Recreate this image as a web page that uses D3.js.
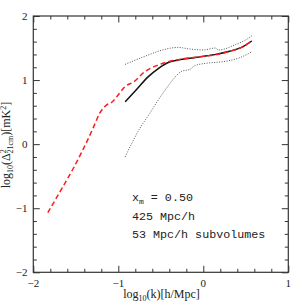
<!DOCTYPE html>
<html><head><meta charset="utf-8">
<script src="https://cdn.jsdelivr.net/npm/d3@7/dist/d3.min.js"></script>
<style>body{margin:0;background:#fff}svg{display:block}</style>
</head><body>
<svg id="c" width="305" height="305"></svg>
<script>
const xTicks = [-2, -1, 0, 1];
const yTicks = [-2, -1, 0, 1, 2];
const redDashed = [[-1.83,-1.07],[-1.65,-0.66],[-1.53,-0.38],[-1.41,-0.07],[-1.29,0.27],[-1.22,0.48],[-1.14,0.61],[-1.08,0.65],[-1.0,0.77],[-0.92,0.90],[-0.82,0.97],[-0.69,1.13],[-0.53,1.235],[-0.37,1.30],[-0.22,1.335],[0.0,1.37],[0.16,1.40],[0.31,1.45],[0.45,1.51],[0.57,1.61]];
const blackSolid = [[-0.92,0.66],[-0.78,0.86],[-0.65,1.05],[-0.53,1.18],[-0.39,1.285],[-0.31,1.31],[-0.16,1.34],[0.0,1.37],[0.16,1.405],[0.31,1.45],[0.45,1.51],[0.57,1.61]];
const upperDotted = [[-0.92,1.245],[-0.65,1.39],[-0.45,1.48],[-0.30,1.51],[-0.16,1.485],[0.0,1.47],[0.14,1.50],[0.18,1.47],[0.25,1.485],[0.37,1.55],[0.49,1.62],[0.57,1.69]];
const lowerDotted = [[-0.92,-0.20],[-0.745,0.25],[-0.63,0.48],[-0.53,0.69],[-0.39,0.95],[-0.33,1.05],[-0.25,1.14],[-0.16,1.165],[-0.10,1.225],[0.02,1.26],[0.18,1.28],[0.29,1.30],[0.43,1.35],[0.57,1.44]];

const L=33.3, R=288.3, T=16, B=272.3;
const x = d3.scaleLinear().domain([-2,1]).range([L,R]);
const y = d3.scaleLinear().domain([-2,2]).range([B,T]);
const svg = d3.select('#c');
const g = svg.append('g');
const axc = '#333';
const minorX = d3.range(-2,1.0001,0.2).map(v=>+v.toFixed(2));
const minorY = d3.range(-2,2.0001,0.2).map(v=>+v.toFixed(2));
const isMaj = v => Math.abs(v-Math.round(v))<1e-6;

function ax(axisGen, tr, vals){
  const a = g.append('g').attr('transform',tr).call(axisGen.tickValues(vals).tickFormat('').tickSizeOuter(0));
  a.select('.domain').remove();
  a.selectAll('.tick line').attr('stroke',axc).attr('stroke-width',1)
   .each(function(d){ const s=isMaj(d)?6.5:3.5; const el=d3.select(this); if(el.attr('x2')!==null && +el.attr('x2')!==0) el.attr('x2', Math.sign(+el.attr('x2'))*s); else el.attr('y2', Math.sign(+el.attr('y2'))*s);});
}
ax(d3.axisBottom(x).tickSizeInner(-1), `translate(0,${B})`, minorX);
ax(d3.axisTop(x).tickSizeInner(-1), `translate(0,${T})`, minorX);
ax(d3.axisLeft(y).tickSizeInner(-1), `translate(${L},0)`, minorY);
ax(d3.axisRight(y).tickSizeInner(-1), `translate(${R},0)`, minorY);
g.append('rect').attr('x',L).attr('y',T).attr('width',R-L).attr('height',B-T).attr('fill','none').attr('stroke',axc).attr('stroke-width',1.2);

const fmt = v => (v<0?'\u2212':'')+Math.abs(v);
g.selectAll('.xl').data(xTicks).enter().append('text').attr('x',d=>x(d)).attr('y',287)
 .attr('text-anchor','middle').attr('font-family','Liberation Serif').attr('font-size',11).attr('fill','#222').text(fmt);
g.selectAll('.yl').data(yTicks).enter().append('text').attr('x',27.5).attr('y',d=>y(d)+3.8)
 .attr('text-anchor','end').attr('font-family','Liberation Serif').attr('font-size',11).attr('fill','#222').text(fmt);

const line = d3.line().x(d=>x(d[0])).y(d=>y(d[1])).curve(d3.curveMonotoneX);
g.append('path').datum(upperDotted).attr('d',line).attr('fill','none').attr('stroke','#555').attr('stroke-width',1).attr('stroke-dasharray','1,1.5');
g.append('path').datum(lowerDotted).attr('d',line).attr('fill','none').attr('stroke','#555').attr('stroke-width',1).attr('stroke-dasharray','1,1.5');
g.append('path').datum(blackSolid).attr('d',line).attr('fill','none').attr('stroke','#111').attr('stroke-width',1.5);
g.append('path').datum(redDashed).attr('d',line).attr('fill','none').attr('stroke','#ff1a1a').attr('stroke-width',1.5).attr('stroke-dasharray','5,3');

// annotation
const ann = g.append('g').attr('font-family','Liberation Mono').attr('font-size',11.7).attr('fill','#222');
const t1 = ann.append('text').attr('x',132).attr('y',201);
t1.append('tspan').text('x');
t1.append('tspan').attr('font-size',8).attr('dy',2.5).text('m');
t1.append('tspan').attr('dy',-2.5).text(' = 0.50');
ann.append('text').attr('x',132).attr('y',220).text('425 Mpc/h');
ann.append('text').attr('x',132).attr('y',237.5).text('53 Mpc/h subvolumes');

// axis labels
const xl = g.append('text').attr('x',161.5).attr('y',298).attr('text-anchor','middle').attr('font-family','Liberation Serif').attr('font-size',12).attr('fill','#222');
xl.append('tspan').text('log');
xl.append('tspan').attr('font-size',8).attr('dy',2.5).text('10');
xl.append('tspan').attr('dy',-2.5).text('(k)[h/Mpc]');

const yl = g.append('text').attr('transform','translate(10,145) rotate(-90)').attr('text-anchor','middle').attr('font-family','Liberation Serif').attr('font-size',12).attr('fill','#222');
yl.append('tspan').text('log');
yl.append('tspan').attr('font-size',8).attr('dy',2.5).text('10');
yl.append('tspan').attr('dy',-2.5).text('(\u0394');
yl.append('tspan').attr('font-size',8).attr('dy',-4.5).text('2');
yl.append('tspan').attr('font-size',8).attr('dx',-4.4).attr('dy',7).text('21cm');
yl.append('tspan').attr('dy',-2.5).text(')[mK');
yl.append('tspan').attr('font-size',8).attr('dy',-4.5).text('2');
yl.append('tspan').attr('dy',4.5).text(']');
</script>
</body></html>
